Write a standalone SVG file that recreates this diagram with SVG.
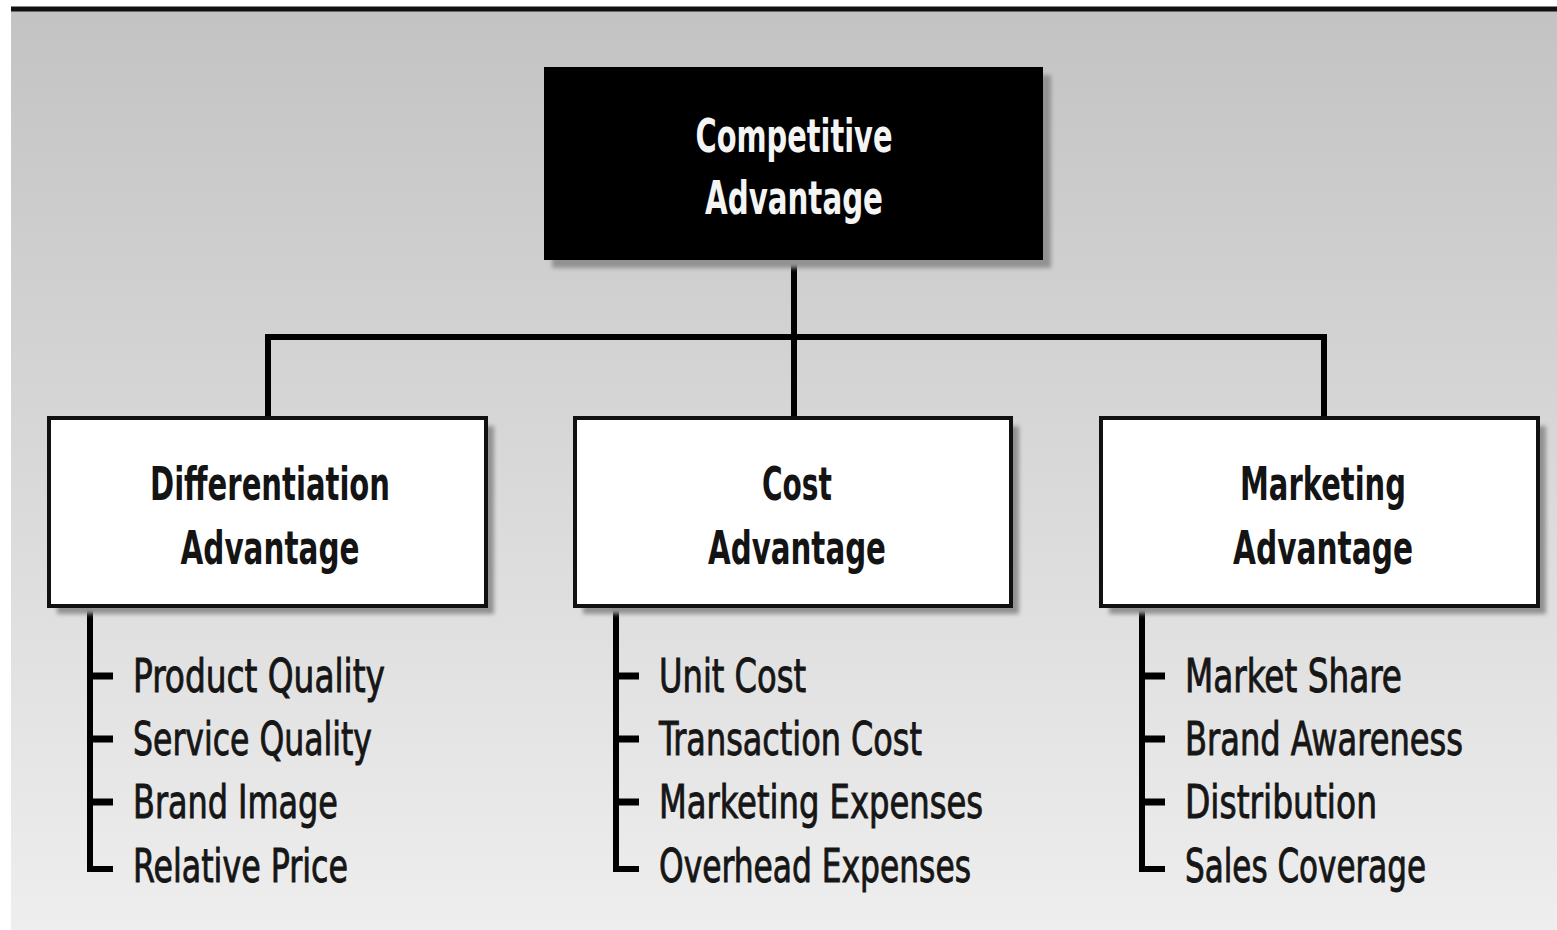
<svg xmlns="http://www.w3.org/2000/svg" width="1557" height="930" viewBox="0 0 1557 930">
  <defs>
    <linearGradient id="bg" x1="0" y1="0" x2="0" y2="1">
      <stop offset="0" stop-color="#c3c3c3"/>
      <stop offset="1" stop-color="#eeeeee"/>
    </linearGradient>
    <filter id="blur" x="-5%" y="-5%" width="110%" height="110%">
      <feGaussianBlur stdDeviation="2"/>
    </filter>
  </defs>
  <style>
    .shadow { fill: #929292; filter: url(#blur); }
    .box { fill: #ffffff; stroke: #111111; stroke-width: 4; }
    .root { fill: #000000; }
    .head { font-family: "DejaVu Sans Condensed", "DejaVu Sans", sans-serif; font-weight: bold; font-size: 46px; fill: #141414; text-anchor: middle; }
    .rootText { font-family: "DejaVu Sans Condensed", "DejaVu Sans", sans-serif; font-weight: bold; font-size: 46px; fill: #f4f4f4; text-anchor: middle; }
    .item { font-family: "DejaVu Sans Condensed", "DejaVu Sans", sans-serif; font-size: 46px; fill: #161616; stroke: #161616; stroke-width: 0.9; }
    .conn { fill: none; stroke: #000000; stroke-width: 6; stroke-linecap: butt; stroke-linejoin: miter; }
    .tick { fill: none; stroke: #000000; stroke-width: 7; }
  </style>

  <rect x="0" y="0" width="1557" height="930" fill="#ffffff"/>
  <rect x="11" y="11" width="1546" height="919" fill="url(#bg)"/>
  <line x1="11" y1="9" x2="1557" y2="9" stroke="#111111" stroke-width="5"/>

  <g id="connectors">
    <path class="conn" d="M794 260 V337"/>
    <path class="conn" d="M268 418 V337 H1324 V418"/>
    <path class="conn" d="M794 337 V418"/>
    <path class="conn" d="M90 606 V869 H113"/>
    <path class="tick" d="M90 676 H113 M90 739 H113 M90 802 H113"/>
    <path class="conn" d="M616 606 V869 H639"/>
    <path class="tick" d="M616 676 H639 M616 739 H639 M616 802 H639"/>
    <path class="conn" d="M1142 606 V869 H1165"/>
    <path class="tick" d="M1142 676 H1165 M1142 739 H1165 M1142 802 H1165"/>
  </g>

  <g id="node-competitive-advantage">
    <rect class="shadow" x="552" y="75" width="499" height="193"/>
    <rect class="root" x="544" y="67" width="499" height="193"/>
    <text class="rootText" x="794" y="152" textLength="197" lengthAdjust="spacingAndGlyphs">Competitive</text>
    <text class="rootText" x="794" y="214" textLength="178" lengthAdjust="spacingAndGlyphs">Advantage</text>
  </g>

  <g id="node-differentiation-advantage">
    <rect class="shadow" x="57" y="426" width="437" height="188"/>
    <rect class="box" x="49" y="418" width="437" height="188"/>
    <text class="head" x="270" y="500" textLength="240" lengthAdjust="spacingAndGlyphs">Differentiation</text>
    <text class="head" x="270" y="564" textLength="179" lengthAdjust="spacingAndGlyphs">Advantage</text>
  </g>

  <g id="node-cost-advantage">
    <rect class="shadow" x="583" y="426" width="436" height="188"/>
    <rect class="box" x="575" y="418" width="436" height="188"/>
    <text class="head" x="797" y="500" textLength="70" lengthAdjust="spacingAndGlyphs">Cost</text>
    <text class="head" x="797" y="564" textLength="178" lengthAdjust="spacingAndGlyphs">Advantage</text>
  </g>

  <g id="node-marketing-advantage">
    <rect class="shadow" x="1109" y="426" width="437" height="188"/>
    <rect class="box" x="1101" y="418" width="437" height="188"/>
    <text class="head" x="1323" y="500" textLength="166" lengthAdjust="spacingAndGlyphs">Marketing</text>
    <text class="head" x="1323" y="564" textLength="180" lengthAdjust="spacingAndGlyphs">Advantage</text>
  </g>

  <g id="list-differentiation">
    <text class="item" x="133" y="692" textLength="252" lengthAdjust="spacingAndGlyphs">Product Quality</text>
    <text class="item" x="133" y="755" textLength="239" lengthAdjust="spacingAndGlyphs">Service Quality</text>
    <text class="item" x="133" y="818" textLength="205" lengthAdjust="spacingAndGlyphs">Brand Image</text>
    <text class="item" x="133" y="882" textLength="215" lengthAdjust="spacingAndGlyphs">Relative Price</text>
  </g>

  <g id="list-cost">
    <text class="item" x="659" y="692" textLength="147" lengthAdjust="spacingAndGlyphs">Unit Cost</text>
    <text class="item" x="659" y="755" textLength="263" lengthAdjust="spacingAndGlyphs">Transaction Cost</text>
    <text class="item" x="659" y="818" textLength="324" lengthAdjust="spacingAndGlyphs">Marketing Expenses</text>
    <text class="item" x="659" y="882" textLength="312" lengthAdjust="spacingAndGlyphs">Overhead Expenses</text>
  </g>

  <g id="list-marketing">
    <text class="item" x="1185" y="692" textLength="217" lengthAdjust="spacingAndGlyphs">Market Share</text>
    <text class="item" x="1185" y="755" textLength="278" lengthAdjust="spacingAndGlyphs">Brand Awareness</text>
    <text class="item" x="1185" y="818" textLength="192" lengthAdjust="spacingAndGlyphs">Distribution</text>
    <text class="item" x="1185" y="882" textLength="241" lengthAdjust="spacingAndGlyphs">Sales Coverage</text>
  </g>
</svg>
